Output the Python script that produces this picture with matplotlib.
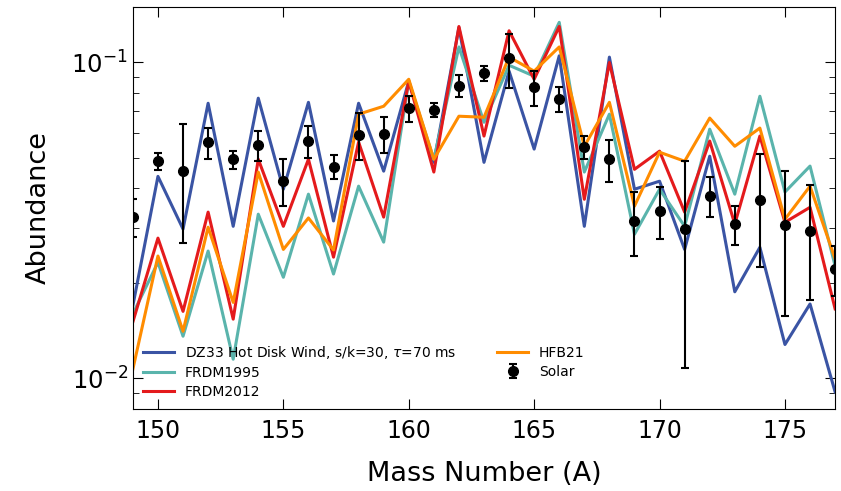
import matplotlib
matplotlib.use("Agg")
import matplotlib.pyplot as plt
import numpy as np

mass = list(range(149, 178))

dz33 = [0.0170, 0.0436, 0.0297, 0.0743, 0.0303, 0.0771, 0.0397, 0.0748, 0.0315, 0.0743,
        0.0453, 0.0873, 0.0483, 0.129, 0.0483, 0.0939, 0.0532, 0.105, 0.0303, 0.104,
        0.0397, 0.0421, 0.0256, 0.0505, 0.0188, 0.0260, 0.0128, 0.0172, 0.00906]
frdm1995 = [0.0160, 0.0233, 0.0136, 0.0253, 0.0115, 0.0331, 0.0209, 0.0383, 0.0214, 0.0406,
            0.0270, 0.0873, 0.0494, 0.112, 0.0647, 0.098, 0.0905, 0.134, 0.0450, 0.0686,
            0.0286, 0.0397, 0.0303, 0.0615, 0.0383, 0.0782, 0.0389, 0.0470, 0.0227]
frdm2012 = [0.0151, 0.0278, 0.0163, 0.0336, 0.0154, 0.0494, 0.0303, 0.0494, 0.0242, 0.0560,
            0.0324, 0.0873, 0.0450, 0.130, 0.0585, 0.126, 0.0885, 0.130, 0.0369, 0.100,
            0.0459, 0.0524, 0.0336, 0.0564, 0.0308, 0.0585, 0.0312, 0.0348, 0.0166]
hfb21 = [0.0107, 0.0244, 0.0141, 0.0301, 0.0174, 0.0450, 0.0256, 0.0322, 0.0255, 0.0686,
         0.0727, 0.0885, 0.0494, 0.0676, 0.0671, 0.104, 0.0939, 0.112, 0.0543, 0.0748,
         0.0351, 0.0520, 0.0487, 0.0667, 0.0543, 0.0620, 0.0319, 0.0406, 0.0239]

solar = [0.0324, 0.0487, 0.0453, 0.0560, 0.0494, 0.0547, 0.0421, 0.0564, 0.0467, 0.0589,
         0.0593, 0.0717, 0.0706, 0.0841, 0.0925, 0.103, 0.0835, 0.0765, 0.0540, 0.0494,
         0.0315, 0.0338, 0.0297, 0.0378, 0.0308, 0.0367, 0.0306, 0.0292, 0.0222]
solar_hi = [0.0369, 0.0516, 0.0638, 0.0620, 0.0524, 0.0606, 0.0494, 0.0629, 0.0509, 0.0691,
            0.0671, 0.0782, 0.0743, 0.0912, 0.0973, 0.123, 0.0939, 0.0835, 0.0585, 0.0568,
            0.0389, 0.0403, 0.0487, 0.0434, 0.0351, 0.0513, 0.0453, 0.0409, 0.0262]
solar_lo = [0.0280, 0.0456, 0.0268, 0.0494, 0.0459, 0.0487, 0.0351, 0.0498, 0.0428, 0.0491,
            0.0516, 0.0647, 0.0671, 0.0777, 0.0873, 0.0829, 0.0727, 0.0697, 0.0494, 0.0418,
            0.0244, 0.0276, 0.0108, 0.0324, 0.0264, 0.0225, 0.0158, 0.0177, 0.0182]

fig = plt.figure(figsize=(8.41, 4.91), dpi=100)
ax = fig.add_axes([0.158, 0.167, 0.835, 0.819])

lw = 2.2
ax.plot(mass, dz33, color="#3a54a4", lw=lw, label=r"DZ33 Hot Disk Wind, s/k=30, $\tau$=70 ms")
ax.plot(mass, frdm1995, color="#5ab4ac", lw=lw, label="FRDM1995")
ax.plot(mass, frdm2012, color="#e41a1c", lw=lw, label="FRDM2012")
ax.plot(mass, hfb21, color="#ff8c00", lw=lw, label="HFB21")

s = np.array(solar)
yerr = np.vstack([s - np.array(solar_lo), np.array(solar_hi) - s])
ax.errorbar(mass, solar, yerr=yerr, fmt="o", color="black", ms=7, elinewidth=1.5,
            capsize=3, capthick=1.5, label="Solar", zorder=5)

ax.set_yscale("log")
ax.set_xlim(149, 177)
ax.set_ylim(0.008, 0.15)
ax.set_xticks([150, 155, 160, 165, 170, 175])
ax.tick_params(which="both", direction="in", top=True, right=True)
ax.tick_params(which="major", length=7, labelsize=17)
ax.tick_params(which="minor", length=4)
ax.tick_params(axis="y", which="major", labelsize=17.5)
ax.tick_params(axis="x", which="minor", bottom=False, top=False)
ax.tick_params(axis="x", pad=7)

ax.set_xlabel("Mass Number (A)", fontsize=19.5, labelpad=13)
ax.set_ylabel("Abundance", fontsize=19.5, labelpad=14)

ax.legend(loc="lower left", ncol=2, frameon=False, fontsize=10,
          handlelength=2.2, columnspacing=2.95, labelspacing=0.35,
          borderaxespad=0.35)

fig.savefig("out.png", dpi=100)
